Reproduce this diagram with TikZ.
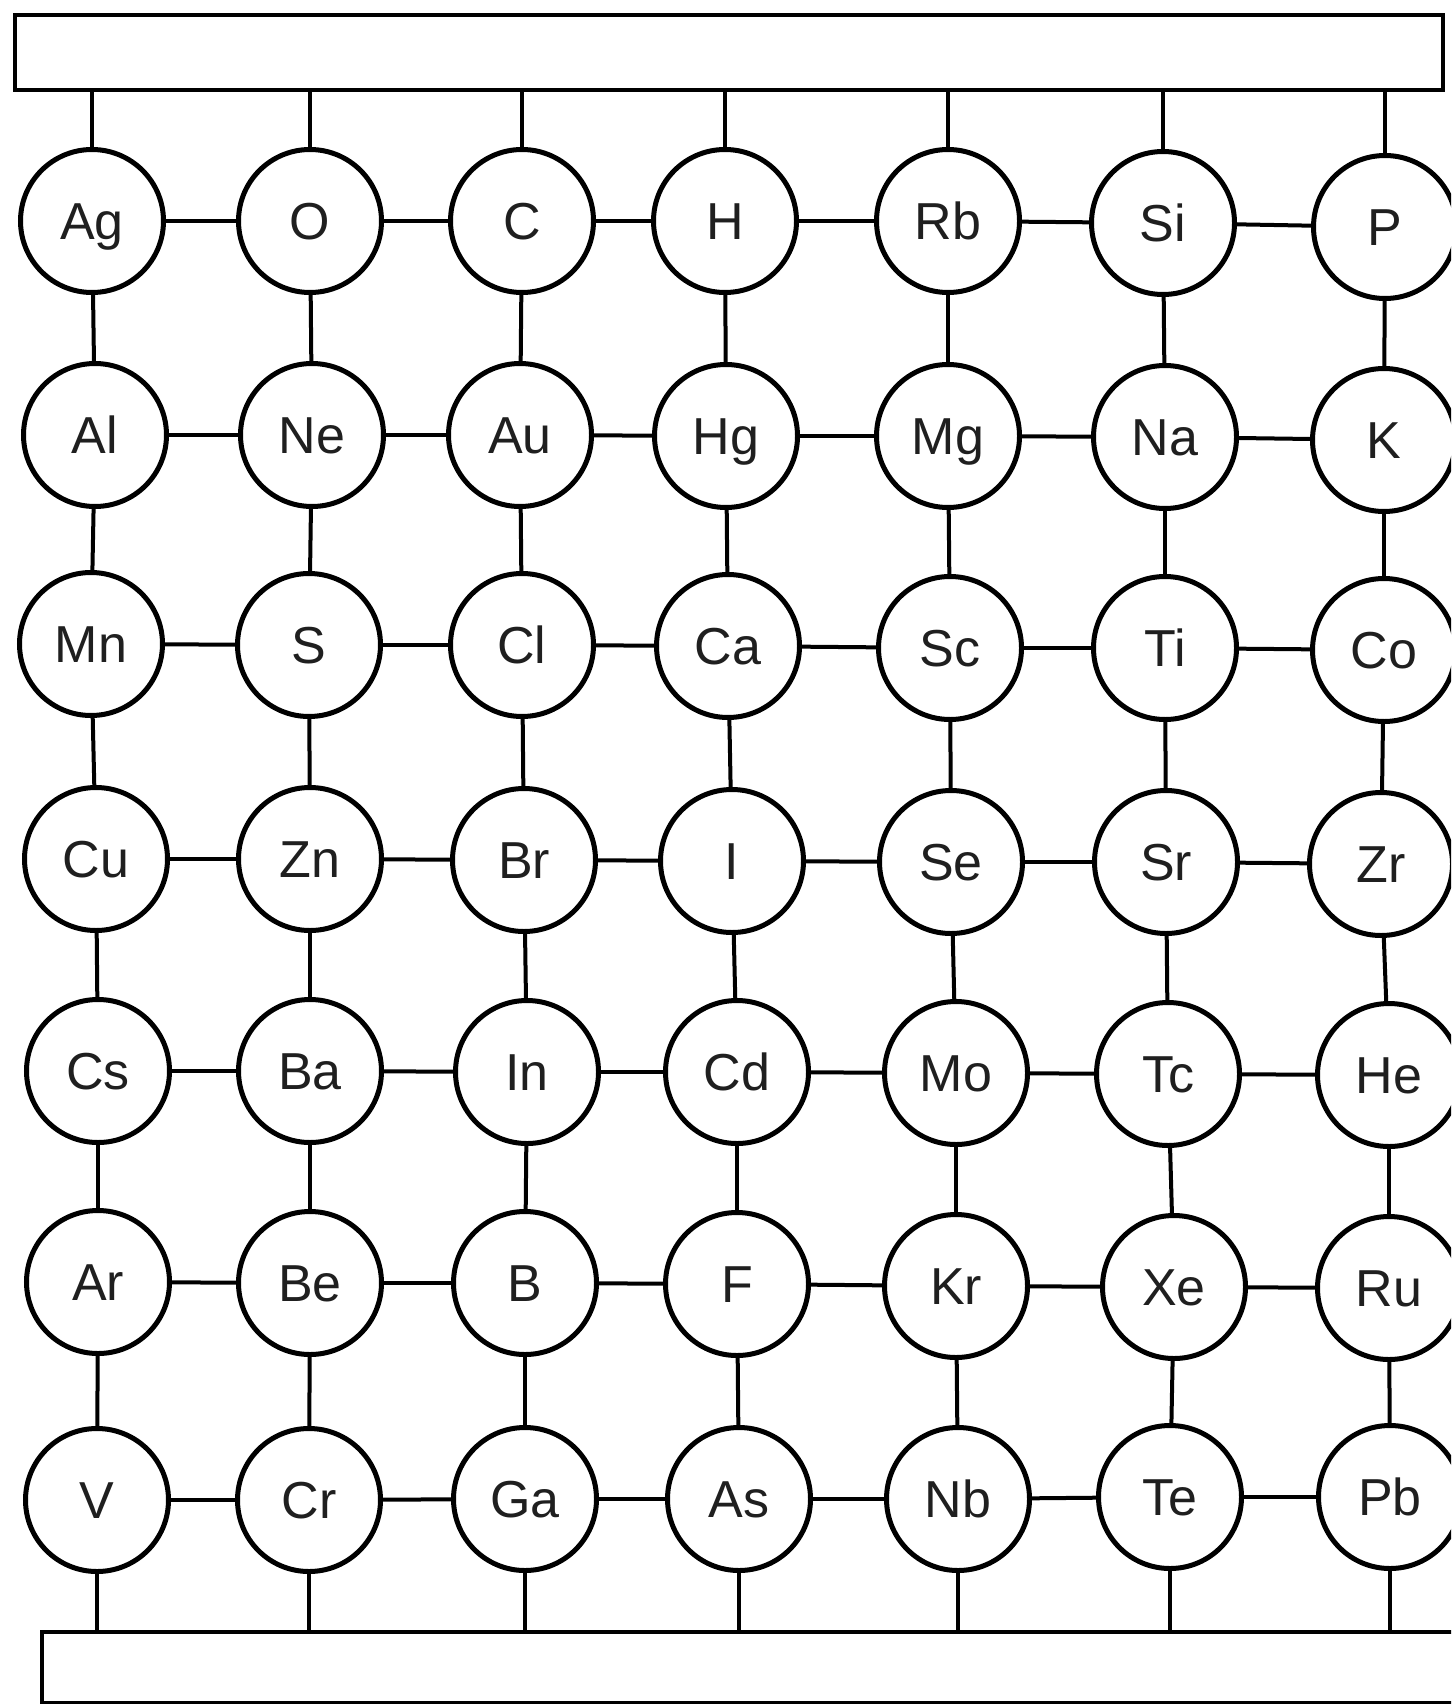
\documentclass[tikz,border=0pt]{standalone}
\usepackage{fontspec}
\setmainfont{Liberation Sans}
\begin{document}
\begin{tikzpicture}[x=1pt,y=-1pt,
  atom/.style={circle, draw=black, line width=5pt, minimum size=143pt, inner sep=0pt,
    font=\fontsize{52}{60}\selectfont, text=black!88, text height=37pt, text depth=0pt},
  bond/.style={line width=4pt},
  bar/.style={draw=black, rectangle, line width=4pt, inner sep=0pt, fill=white}]
\useasboundingbox (0,0) rectangle (1451,1704);
\clip (0,0) rectangle (1451,1704);
\fill[white] (0,0) rectangle (1451,1704);
% bars
\node[bar, minimum width=1428pt, minimum height=75pt] (top) at (729,53) {};
\node[bar, minimum width=1450pt, minimum height=71pt] (bottom) at (767,1667.5) {};
% row 1
\node[atom] (Ag) at (92,221) {Ag};
\node[atom] (O)  at (310,221) {O};
\node[atom] (C)  at (522,221) {C};
\node[atom] (H)  at (725,221) {H};
\node[atom] (Rb) at (948,221) {Rb};
\node[atom] (Si) at (1163,223) {Si};
\node[atom] (P)  at (1385,227) {P};
% row 2
\node[atom] (Al) at (95,435) {Al};
\node[atom] (Ne) at (312,435) {Ne};
\node[atom] (Au) at (520,435) {Au};
\node[atom] (Hg) at (726,436) {Hg};
\node[atom] (Mg) at (948,436) {Mg};
\node[atom] (Na) at (1165,437) {Na};
\node[atom] (K)  at (1384,440) {K};
% row 3
\node[atom] (Mn) at (91,644) {Mn};
\node[atom] (S)  at (309,645) {S};
\node[atom] (Cl) at (522,645) {Cl};
\node[atom] (Ca) at (728,646) {Ca};
\node[atom] (Sc) at (950,648) {Sc};
\node[atom] (Ti) at (1165,648) {Ti};
\node[atom] (Co) at (1384,650) {Co};
% row 4
\node[atom] (Cu) at (96,859) {Cu};
\node[atom] (Zn) at (310,859) {Zn};
\node[atom] (Br) at (524,860) {Br};
\node[atom] (I)  at (732,861) {I};
\node[atom] (Se) at (951,862) {Se};
\node[atom] (Sr) at (1166,862) {Sr};
\node[atom] (Zr) at (1381,864) {Zr};
% row 5
\node[atom] (Cs) at (98,1071) {Cs};
\node[atom] (Ba) at (310,1071) {Ba};
\node[atom] (In) at (527,1072) {In};
\node[atom] (Cd) at (737,1072) {Cd};
\node[atom] (Mo) at (956,1073) {Mo};
\node[atom] (Tc) at (1168,1074) {Tc};
\node[atom] (He) at (1389,1075) {He};
% row 6
\node[atom] (Ar) at (98,1282) {Ar};
\node[atom] (Be) at (310,1283) {Be};
\node[atom] (B)  at (525,1283) {B};
\node[atom] (F)  at (737,1284) {F};
\node[atom] (Kr) at (956,1286) {Kr};
\node[atom] (Xe) at (1174,1287) {Xe};
\node[atom] (Ru) at (1389,1288) {Ru};
% row 7
\node[atom] (V)  at (97,1500) {V};
\node[atom] (Cr) at (309,1500) {Cr};
\node[atom] (Ga) at (525,1499) {Ga};
\node[atom] (As) at (739,1499) {As};
\node[atom] (Nb) at (958,1499) {Nb};
\node[atom] (Te) at (1170,1497) {Te};
\node[atom] (Pb) at (1390,1497) {Pb};
% horizontal bonds
\foreach \a/\b in {Ag/O,O/C,C/H,H/Rb,Rb/Si,Si/P,
  Al/Ne,Ne/Au,Au/Hg,Hg/Mg,Mg/Na,Na/K,
  Mn/S,S/Cl,Cl/Ca,Ca/Sc,Sc/Ti,Ti/Co,
  Cu/Zn,Zn/Br,Br/I,I/Se,Se/Sr,Sr/Zr,
  Cs/Ba,Ba/In,In/Cd,Cd/Mo,Mo/Tc,Tc/He,
  Ar/Be,Be/B,B/F,F/Kr,Kr/Xe,Xe/Ru,
  V/Cr,Cr/Ga,Ga/As,As/Nb,Nb/Te,Te/Pb}
  \draw[bond] (\a) -- (\b);
% vertical bonds
\foreach \a/\b in {Ag/Al,Al/Mn,Mn/Cu,Cu/Cs,Cs/Ar,Ar/V,
  O/Ne,Ne/S,S/Zn,Zn/Ba,Ba/Be,Be/Cr,
  C/Au,Au/Cl,Cl/Br,Br/In,In/B,B/Ga,
  H/Hg,Hg/Ca,Ca/I,I/Cd,Cd/F,F/As,
  Rb/Mg,Mg/Sc,Sc/Se,Se/Mo,Mo/Kr,Kr/Nb,
  Si/Na,Na/Ti,Ti/Sr,Sr/Tc,Tc/Xe,Xe/Te,
  P/K,K/Co,Co/Zr,Zr/He,He/Ru,Ru/Pb}
  \draw[bond] (\a) -- (\b);
% connections to bars
\foreach \a in {Ag,O,C,H,Rb,Si,P}
  \draw[bond] (\a) -- (\a |- top.south);
\foreach \a in {V,Cr,Ga,As,Nb,Te,Pb}
  \draw[bond] (\a) -- (\a |- bottom.north);
\end{tikzpicture}
\end{document}
